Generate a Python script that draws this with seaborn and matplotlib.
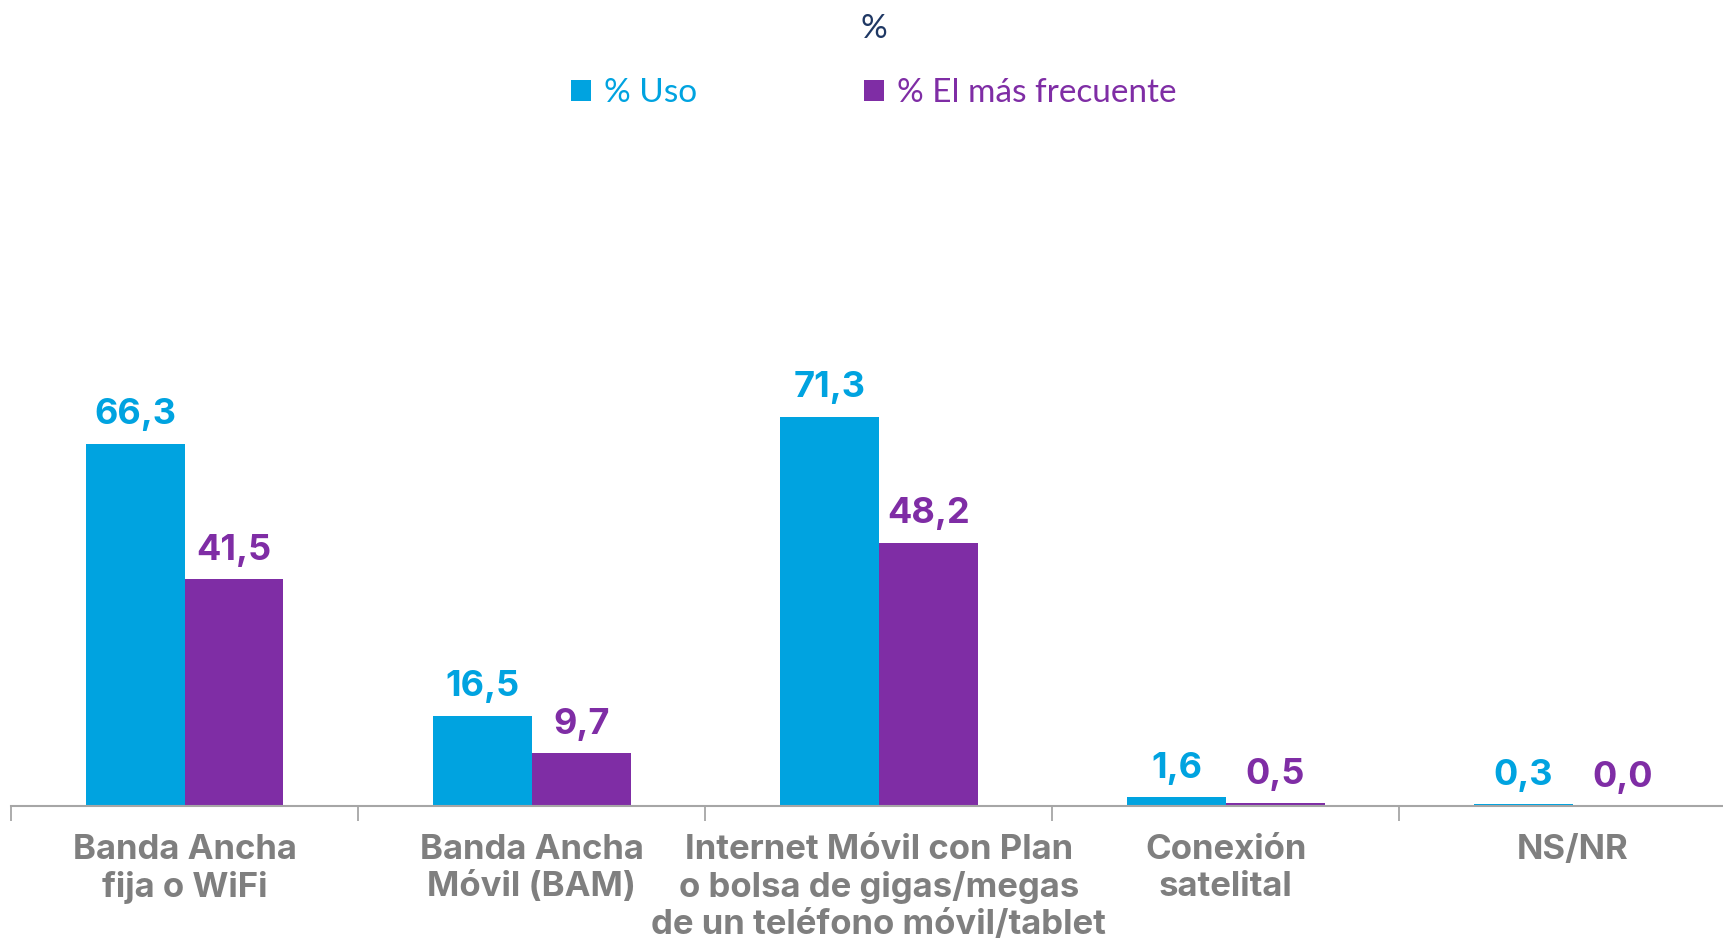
import pandas as pd
import seaborn as sns
import matplotlib.pyplot as plt
from matplotlib.patches import Patch

categories = [
    "Banda Ancha\nfija o WiFi",
    "Banda Ancha\nMóvil (BAM)",
    "Internet Móvil con Plan\no bolsa de gigas/megas\nde un teléfono móvil/tablet",
    "Conexión\nsatelital",
    "NS/NR",
]
series = ["% Uso", "% El más frecuente"]
uso = [66.3, 16.5, 71.3, 1.6, 0.3]
frecuente = [41.5, 9.7, 48.2, 0.5, 0.0]
colors = ["#00A3E0", "#7F2DA5"]

df = pd.DataFrame({
    "categoria": categories * 2,
    "serie": [series[0]] * len(categories) + [series[1]] * len(categories),
    "valor": uso + frecuente,
})

sns.set_theme(style="white")
plt.rcParams["font.family"] = ["Lato", "DejaVu Sans"]

fig = plt.figure(figsize=(17.24, 9.40), dpi=100)
ax = fig.add_axes([11 / 1724, 1 - 806 / 940, 1713 / 1724, 710 / 940])

sns.barplot(data=df, x="categoria", y="valor", hue="serie", palette=colors,
            width=0.57, saturation=1, legend=False, linewidth=0, ax=ax)

for cont, col in zip(ax.containers, colors):
    labels = [f"{v:.1f}".replace(".", ",") for v in cont.datavalues]
    ax.bar_label(cont, labels=labels, padding=9, color=col, fontsize=26,
                 fontweight="bold", family=["Inter", "DejaVu Sans"])

ax.set_xlim(-0.5, 4.435)
ax.set_ylim(0, 130)
ax.set_xlabel("")
ax.set_ylabel("")
ax.set_yticks([])
for s in ["top", "right", "left"]:
    ax.spines[s].set_visible(False)
ax.spines["bottom"].set_color("#A6A6A6")
ax.spines["bottom"].set_linewidth(1.5)

ax.set_xticks(range(len(categories)))
ax.set_xticklabels(categories, fontsize=25, fontweight="bold", color="#7F7F7F",
                   family=["Inter", "DejaVu Sans"], linespacing=1.2)
ax.tick_params(axis="x", length=0, pad=20)
# boundary ticks between categories
ax.set_xticks([i - 0.5 for i in range(len(categories))], minor=True)
ax.tick_params(axis="x", which="minor", length=11, width=1.3, color="#A6A6A6",
               direction="out", bottom=True)

fig.text(874 / 1724, 1 - 29 / 940, "%", ha="center", va="center",
         fontsize=24, color="#1F3864")

handles = [Patch(facecolor=c, edgecolor="none", label=s) for c, s in zip(colors, series)]
leg = fig.legend(handles=handles, loc="center", bbox_to_anchor=(874 / 1724, 1 - 93 / 940),
                 ncol=2, frameon=False, fontsize=24, handlelength=0.6, handleheight=0.6,
                 handletextpad=0.4, columnspacing=5.0)
for t, c in zip(leg.get_texts(), colors):
    t.set_color(c)

fig.savefig("out.png", dpi=100)
